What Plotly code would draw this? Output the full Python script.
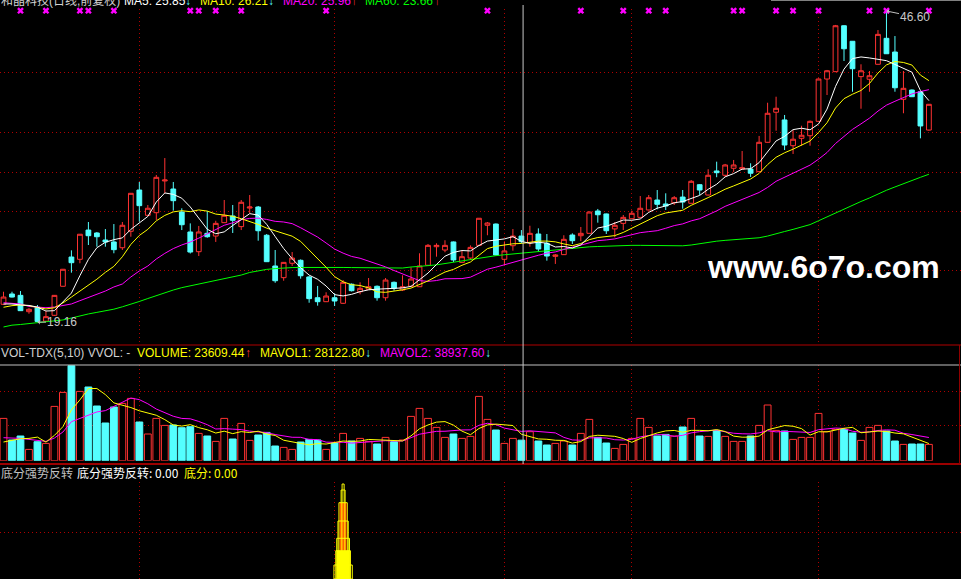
import numpy as np
import pandas as pd
import plotly.graph_objects as go

# ---------------- data ----------------
open_ = [20.73, 21.64, 21.52, 20.08, 20.47, 19.24, 19.76, 22.32, 24.90, 24.70,
         27.28, 27.02, 26.40, 26.23, 25.72, 27.17, 30.81, 28.58, 28.81, 31.61,
         30.90, 28.87, 27.11, 25.37, 26.99, 26.75, 27.93, 28.52, 27.58, 29.22,
         29.31, 26.82, 24.11, 23.08, 24.35, 24.61, 23.14, 21.31, 20.96, 21.31,
         20.82, 22.50, 21.84, 22.05, 22.32, 21.31, 22.67, 21.99, 22.32, 22.28,
         24.17, 25.81, 25.52, 26.23, 24.43, 24.81, 25.93, 27.70, 27.81, 24.70,
         25.90, 26.75, 26.16, 26.93, 26.11, 24.96, 25.11, 26.84, 26.78, 26.99,
         28.96, 28.70, 27.38, 27.87, 28.28, 28.40, 29.05, 29.93, 29.58, 29.69,
         30.19, 29.64, 31.28, 30.37, 32.49, 32.11, 32.73, 32.66, 32.66, 32.43,
         35.02, 37.67, 36.99, 34.72, 35.37, 35.60, 36.87, 40.60, 41.25, 45.30,
         43.93, 40.81, 40.58, 41.90, 44.19, 42.98, 38.81, 39.63, 39.48, 36.10]
high = [21.84, 21.84, 21.90, 20.40, 20.67, 20.14, 21.55, 23.85, 25.49, 26.93,
        27.99, 27.11, 27.37, 27.81, 27.99, 30.55, 31.52, 29.49, 32.14, 33.63,
        31.52, 29.20, 27.87, 27.64, 28.96, 28.10, 29.93, 29.49, 29.93, 30.37,
        29.40, 26.93, 25.52, 24.46, 25.34, 24.69, 23.23, 22.35, 21.79, 21.70,
        22.87, 22.57, 22.67, 23.05, 22.39, 23.05, 22.74, 23.29, 23.99, 25.23,
        26.05, 26.11, 26.38, 26.27, 25.46, 25.93, 28.34, 27.99, 27.86, 26.23,
        27.37, 27.28, 27.66, 27.43, 26.93, 25.17, 26.82, 26.99, 27.55, 28.92,
        29.14, 28.74, 27.99, 28.61, 28.99, 30.28, 30.37, 30.81, 30.52, 30.28,
        30.81, 31.69, 31.34, 32.64, 33.31, 33.11, 33.46, 34.25, 33.17, 35.58,
        38.51, 39.04, 37.43, 36.10, 36.48, 36.94, 40.65, 41.40, 45.37, 45.34,
        43.95, 41.90, 41.31, 44.92, 46.60, 44.39, 41.31, 39.68, 39.50, 38.40]
low = [20.67, 21.33, 20.14, 19.90, 19.16, 19.20, 19.70, 22.30, 23.52, 24.35,
       25.96, 25.81, 25.81, 25.23, 25.52, 26.69, 28.02, 28.52, 28.17, 30.52,
       28.99, 27.28, 25.21, 24.99, 26.60, 26.23, 27.93, 27.02, 27.28, 28.76,
       26.34, 24.46, 22.63, 22.81, 24.11, 22.99, 20.87, 20.61, 20.93, 20.58,
       20.76, 21.86, 21.61, 21.99, 21.05, 21.05, 21.93, 21.90, 22.25, 22.26,
       24.17, 24.93, 25.32, 24.46, 24.41, 24.64, 25.91, 26.82, 25.03, 24.20,
       25.46, 26.10, 25.81, 25.37, 24.58, 24.29, 25.08, 26.05, 26.31, 26.97,
       27.93, 26.93, 26.64, 27.28, 28.25, 28.38, 29.02, 29.11, 29.05, 29.49,
       29.16, 29.62, 30.37, 30.33, 31.94, 31.96, 32.41, 32.62, 31.96, 32.40,
       35.00, 36.04, 34.34, 33.99, 34.72, 34.72, 36.85, 39.19, 41.22, 42.19,
       39.48, 37.98, 39.48, 41.88, 42.81, 39.48, 37.58, 39.01, 35.37, 36.05]
close = [21.37, 21.37, 20.17, 20.29, 19.22, 19.64, 21.52, 23.82, 24.40, 26.91,
         26.78, 26.69, 26.23, 25.55, 27.70, 30.52, 29.43, 29.20, 31.93, 31.69,
         29.87, 27.75, 25.34, 27.11, 26.69, 27.87, 28.58, 28.14, 29.73, 29.31,
         27.22, 24.49, 22.81, 24.43, 24.81, 23.25, 21.23, 20.96, 21.46, 21.02,
         22.67, 21.93, 22.14, 22.28, 21.31, 22.87, 22.14, 22.28, 22.96, 24.11,
         25.93, 25.93, 25.93, 24.64, 24.93, 25.75, 28.32, 27.90, 25.08, 25.44,
         26.75, 26.25, 26.99, 25.61, 24.99, 25.08, 26.46, 26.34, 26.99, 28.87,
         28.63, 27.22, 27.70, 28.40, 28.76, 29.20, 30.13, 29.55, 29.40, 30.13,
         29.75, 31.58, 30.81, 32.11, 32.34, 33.02, 33.02, 32.78, 32.29, 35.02,
         37.58, 38.02, 34.78, 35.29, 35.64, 36.87, 40.60, 41.33, 45.30, 43.27,
         41.51, 41.33, 40.89, 44.54, 42.83, 39.83, 39.78, 39.04, 36.46, 38.37]
volume = [48650, 23800, 28400, 13000, 21850, 19900, 62450, 78550, 109250, 79700,
          84750, 62900, 43350, 61750, 65900, 71650, 44500, 30700, 48650, 40600,
          41050, 37950, 39100, 31400, 28400, 22200, 48650, 24950, 42900, 23350,
          29550, 32550, 16900, 15300, 13000, 21500, 24500, 23800, 13000, 20350,
          31400, 22650, 25650, 22200, 19200, 26800, 21850, 23800, 50950, 60150,
          48650, 38300, 26800, 30700, 25650, 27950, 73950, 47500, 35300, 19900,
          25650, 23609.44, 33350, 22650, 18050, 19900, 22650, 18050, 31400, 47500,
          26800, 20350, 14150, 18750, 25650, 48650, 38300, 28400, 30250, 28400,
          38750, 48650, 28400, 27950, 34850, 27950, 22200, 22200, 28400, 40600,
          64050, 34850, 34150, 24500, 26800, 26800, 54400, 33350, 36000, 36000,
          31850, 23350, 38300, 40600, 34150, 22650, 18750, 19200, 19200, 18750]
ma60 = [18.73, 18.89, 18.95, 19.02, 19.08, 19.17, 19.26, 19.35, 19.52, 19.72,
        19.88, 20.02, 20.16, 20.30, 20.51, 20.73, 20.98, 21.24, 21.51, 21.73,
        21.99, 22.20, 22.36, 22.48, 22.63, 22.80, 22.94, 23.10, 23.31, 23.54,
        23.69, 23.81, 23.88, 23.94, 23.97, 23.98, 23.99, 24.00, 24.00, 23.99,
        23.98, 23.97, 23.96, 23.95, 23.93, 23.91, 23.91, 23.93, 24.02, 24.11,
        24.14, 24.21, 24.33, 24.46, 24.57, 24.66, 24.79, 24.92, 25.02, 25.10,
        25.17, 25.26, 25.34, 25.41, 25.48, 25.56, 25.63, 25.70, 25.74, 25.80,
        25.83, 25.87, 25.91, 25.93, 25.93, 25.93, 25.93, 25.93, 25.93, 25.91,
        25.89, 25.96, 26.09, 26.23, 26.30, 26.37, 26.42, 26.47, 26.53, 26.60,
        26.75, 26.98, 27.15, 27.34, 27.52, 27.76, 28.10, 28.45, 28.80, 29.11,
        29.44, 29.80, 30.11, 30.46, 30.79, 31.08, 31.34, 31.65, 31.93, 32.20]
# moving-average values before a full window exists
ma5_head = [20.76, 20.76, 20.67, 20.63]
ma10_head = [20.47, 20.61, 20.67, 20.61, 20.45, 20.32, 20.43, 20.85, 21.37]
ma20_head = [20.87, 20.82, 20.76, 20.54, 20.47, 20.43, 20.49, 20.61, 20.76, 21.05,
             21.31, 21.61, 21.90, 22.26, 22.52, 23.14, 23.67, 24.11, 24.73]
mavol1_head = [21500, 23800, 25300, 25650]
mavol2_head = [26450, 26450, 25650, 24500, 23350, 22200, 26100, 33000, 44850]

signal_bars = [2, 5, 9, 10, 13, 22, 23, 25, 28, 38, 57, 68, 73, 76, 78, 86, 87,
               91, 93, 96, 102, 104, 109]
reversal_bar = 40
reversal_levels = [14, 28.3, 40.7, 58, 76.3, 89, 95]
reversal_red = [28.3, 76.3]
reversal_yellow = [0, 28.3]
month_starts = [16, 39, 59, 74, 96]
price_grid = [23.67, 28.96, 32.40, 35.84, 41.22]
vol_grid = [40000, 80000]
cursor_bar = 61

price_header = [("和晶科技(日线,前复权)", "#d0d0d0"), ("MA5: 25.85", "#ffffff"),
                ("↓", "#54ffff"), ("MA10: 26.21", "#ffff00"), ("↓", "#54ffff"),
                ("MA20: 25.96", "#ff00ff"), ("↑", "#ff3232"),
                ("MA60: 23.66", "#00ff00"), ("↑", "#ff3232")]
vol_header = [("VOL-TDX(5,10) VVOL: -", "#d0d0d0"),
              ("VOLUME: %.2f" % volume[cursor_bar], "#ffff00"), ("↑", "#ff3232"),
              ("MAVOL1: 28122.80", "#ffff00"), ("↓", "#54ffff"),
              ("MAVOL2: 38937.60", "#ff00ff"), ("↓", "#54ffff")]
ind_header = [("底分强势反转", "#c0c0c0"), ("底分强势反转: 0.00", "#ffffff"),
              ("底分: 0.00", "#ffff00")]

# ---------------- derived ----------------
n = len(close)
idx = list(range(n))
cs = pd.Series(close, dtype=float)
ma5 = cs.rolling(5).mean().to_numpy(); ma5[:len(ma5_head)] = ma5_head
ma10 = cs.rolling(10).mean().to_numpy(); ma10[:len(ma10_head)] = ma10_head
ma20 = cs.rolling(20).mean().to_numpy(); ma20[:len(ma20_head)] = ma20_head
vs = pd.Series(volume, dtype=float)
mavol1 = vs.rolling(5).mean().to_numpy(); mavol1[:len(mavol1_head)] = mavol1_head
mavol2 = vs.rolling(10).mean().to_numpy(); mavol2[:len(mavol2_head)] = mavol2_head
is_up = [c >= o for o, c in zip(open_, close)]
vol_up = [v if u else None for v, u in zip(volume, is_up)]
vol_dn = [None if u else v for v, u in zip(volume, is_up)]

# ---------------- layout constants ----------------
W, H = 961, 579
RED, CYAN = "#ff3232", "#54ffff"
GRID = "#b00000"
DOT = "1px,3px"
BAR_PX = 8.49
X0 = -3.5 / BAR_PX
P0, K = 47.57, 0.0882          # price at pixel row 0, price per pixel
VK = 1150.0                     # volume per pixel
LAT = "Liberation Sans, Arial, Noto Sans CJK SC"
CJK = "Noto Sans CJK SC, Liberation Sans"


def px(x):
    return x / W


def py(y):
    return 1 - y / H


price_dom = [py(344), py(9)]
price_rng = [P0 - K * 344, P0 - K * 9]
vol_dom = [py(460.7), py(365)]
vol_rng = [0, VK * 95.7]
ind_dom = [0, py(482)]
ind_rng = [0, 97]

fig = go.Figure()

# price panel
fig.add_trace(go.Candlestick(
    x=idx, open=open_, high=high, low=low, close=close,
    increasing=dict(line=dict(color=RED, width=1), fillcolor="#000000"),
    decreasing=dict(line=dict(color=CYAN, width=1), fillcolor=CYAN),
    whiskerwidth=0, hoverinfo="skip", showlegend=False, xaxis="x", yaxis="y"))
for series, col in [(ma60, "#00ff00"), (ma20, "#ff00ff"), (ma10, "#ffff00"), (ma5, "#ffffff")]:
    fig.add_trace(go.Scatter(x=idx, y=series, mode="lines", line=dict(color=col, width=1),
                             hoverinfo="skip", showlegend=False, xaxis="x", yaxis="y"))
fig.add_trace(go.Scatter(
    x=signal_bars, y=[price_rng[1] - K * 1.7] * len(signal_bars), mode="markers",
    marker=dict(symbol="x", size=6, color="#ff00ff", line=dict(width=0)),
    cliponaxis=False, hoverinfo="skip", showlegend=False, xaxis="x", yaxis="y"))

# volume panel
fig.add_trace(go.Bar(x=idx, y=vol_up, width=0.8,
                     marker=dict(color="#000000", line=dict(color=RED, width=1)),
                     hoverinfo="skip", showlegend=False, xaxis="x", yaxis="y2"))
fig.add_trace(go.Bar(x=idx, y=vol_dn, width=0.8,
                     marker=dict(color=CYAN, line=dict(color=CYAN, width=1)),
                     hoverinfo="skip", showlegend=False, xaxis="x", yaxis="y2"))
fig.add_trace(go.Scatter(x=idx, y=mavol2, mode="lines", line=dict(color="#ff00ff", width=1),
                         hoverinfo="skip", showlegend=False, xaxis="x", yaxis="y2"))
fig.add_trace(go.Scatter(x=idx, y=mavol1, mode="lines", line=dict(color="#ffff00", width=1),
                         hoverinfo="skip", showlegend=False, xaxis="x", yaxis="y2"))

# indicator panel (stepped spire)
fig.add_trace(go.Bar(x=[reversal_bar], base=[reversal_yellow[0]],
                     y=[reversal_yellow[1] - reversal_yellow[0]], width=[1.5],
                     marker=dict(color="#ffff00", line=dict(width=0)),
                     hoverinfo="skip", showlegend=False, xaxis="x", yaxis="y3"))
fig.add_trace(go.Bar(x=[reversal_bar], base=[reversal_red[0]],
                     y=[reversal_red[1] - reversal_red[0]], width=[0.82],
                     marker=dict(color="#ff0000", line=dict(width=0)),
                     hoverinfo="skip", showlegend=False, xaxis="x", yaxis="y3"))
spire_w = [2.16, 1.73, 1.5, 1.21, 0.98, 0.47, 0.24]
fig.add_trace(go.Bar(x=[reversal_bar] * len(reversal_levels), y=reversal_levels, width=spire_w,
                     marker=dict(color="rgba(0,0,0,0)", line=dict(color="#ffff00", width=1)),
                     hoverinfo="skip", showlegend=False, xaxis="x", yaxis="y3"))

axis_common = dict(showticklabels=False, zeroline=False, showline=False, ticks="",
                   showgrid=True, gridcolor=GRID, gridwidth=1, griddash=DOT, fixedrange=True,
                   automargin=False)
fig.update_layout(
    width=W, height=H, autosize=False,
    margin=dict(l=0, r=0, t=0, b=0, pad=0, autoexpand=False),
    paper_bgcolor="#000000", plot_bgcolor="#000000",
    barmode="overlay", boxgap=0.2, hovermode=False, showlegend=False,
    xaxis=dict(range=[X0, X0 + W / BAR_PX], tickvals=month_starts,
               rangeslider=dict(visible=False), **axis_common),
    yaxis=dict(domain=price_dom, range=price_rng, tickvals=price_grid, **axis_common),
    yaxis2=dict(domain=vol_dom, range=vol_rng, tickvals=vol_grid, **axis_common),
    yaxis3=dict(domain=ind_dom, range=ind_rng, tickvals=[47], **axis_common),
)

shapes = [
    dict(type="line", xref="paper", yref="paper", x0=0, x1=1, y0=py(345), y1=py(345),
         line=dict(color="#b00000", width=1)),
    dict(type="line", xref="paper", yref="paper", x0=0, x1=1, y0=py(365), y1=py(365),
         line=dict(color="#c0c0c0", width=1)),
    dict(type="line", xref="paper", yref="paper", x0=0, x1=1, y0=py(464), y1=py(464),
         line=dict(color="#d00000", width=1.5)),
    dict(type="line", xref="paper", yref="paper", x0=px(959.5), x1=px(959.5),
         y0=py(464), y1=py(345), line=dict(color="#900000", width=1)),
    dict(type="line", xref="paper", yref="paper", x0=px(771), x1=1, y0=py(0.5), y1=py(0.5),
         line=dict(color="#808080", width=1)),
    dict(type="line", xref="x", yref="paper", x0=cursor_bar + 0.2, x1=cursor_bar + 0.2,
         y0=py(464), y1=py(5), line=dict(color="#c8c8c8", width=1)),
]
fig.update_layout(shapes=shapes)

ann = []


def add_runs(runs, xs, ycen, fam):
    for (t, c), x in zip(runs, xs):
        ann.append(dict(text=t, x=px(x), y=py(ycen), xref="paper", yref="paper",
                        xanchor="left", yanchor="middle", showarrow=False,
                        font=dict(family=fam, size=12, color=c), borderpad=0))


add_runs(price_header, [0, 123, 184, 199, 267, 282, 350, 364, 433], 1.0, LAT)
add_runs(vol_header, [0, 136, 244, 259, 364, 379, 484], 353.3, LAT)
add_runs(ind_header, [0, 76, 183], 472.7, CJK)

hi_i = int(np.argmax(high))
lo_i = int(np.argmin(low))
ann.append(dict(text="%.2f" % high[hi_i], x=hi_i, y=high[hi_i], xref="x", yref="y",
                ax=29, ay=6, showarrow=True, arrowhead=1, arrowsize=0.8, arrowwidth=1,
                arrowcolor="#c0c0c0", standoff=0,
                font=dict(family=LAT, size=12, color="#c8c8c8")))
ann.append(dict(text="%.2f" % low[lo_i], x=lo_i, y=low[lo_i], xref="x", yref="y",
                ax=25, ay=0, showarrow=True, arrowhead=1, arrowsize=0.8, arrowwidth=1,
                arrowcolor="#c0c0c0", standoff=0,
                font=dict(family=LAT, size=12, color="#c8c8c8")))
ann.append(dict(text="<b>www.6o7o.com</b>", x=px(705), y=py(267), xref="paper", yref="paper",
                xanchor="left", yanchor="middle", showarrow=False,
                font=dict(family="Liberation Sans, Arial", size=32, color="#ffffff")))
fig.update_layout(annotations=ann)

fig.write_html("out.html", config={"displayModeBar": False, "staticPlot": True},
               post_script="document.body.style.margin='0';document.body.style.background='#000';")
